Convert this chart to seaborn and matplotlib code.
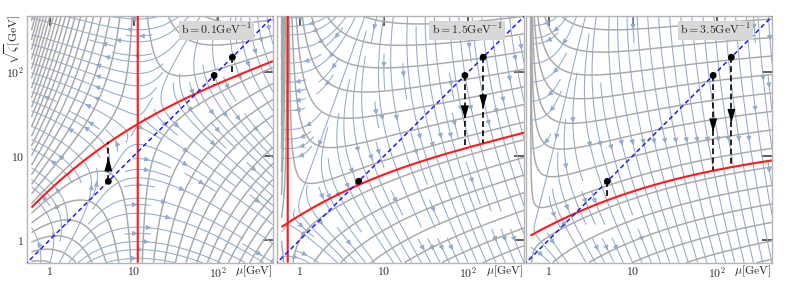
import numpy as np
import matplotlib
matplotlib.use('Agg')
import matplotlib.pyplot as plt
import seaborn as sns

# b values of the three panels (GeV^-1) and the scale mu where D(mu,b)=0
b_labels = ['0.1', '1.5', '3.5']
mu0 = [11.2, 0.72, 0.605]
mu_cut = 0.6                 # the field is not drawn below this scale
mu_pole = [0.1, 0.6, 0.6]    # where D(mu) runs away, per panel

# special null line: mu and sqrt(zeta) in GeV
red_mu = [
    [0.60, 4.9, 11.2, 35.5, 91, 148, 417],
    [0.59, 0.72, 4.9, 11.7, 91, 150, 407],
    [0.62, 2.1, 5.0, 12.0, 89, 145, 389],
]
red_sz = [
    [2.4, 14.5, 23.4, 44.7, 69, 87, 129],
    [1.35, 1.66, 4.57, 6.2, 12.3, 14.4, 18.2],
    [1.12, 2.19, 3.0, 3.76, 6.8, 7.46, 8.5],
]

# points on zeta = mu^2 and where their dashed arrows stop
point_mu = [5, 91, 150]
arrow_end = [
    [14.8, 70, 93],
    [4.6, 12.3, 14.4],
    [3.05, 6.8, 7.5],
]
diag_mu = [0.5, 500]

# spacing of the equipotential lines at the right edge (decades of sqrt(zeta))
contour_ds = [0.19, 0.21, 0.22]
contour_offset = [0.4, 0.4, 0.35]

xlim = (-0.27, 2.66)
ylim = (-0.27, 2.67)

sns.set_style('white')
plt.rcParams['font.family'] = ['DejaVu Serif']
plt.rcParams['mathtext.fontset'] = 'cm'

fig = plt.figure(figsize=(7.89, 2.90), dpi=100)
rects = [
    [27 / 789, 1 - 262.7 / 290, 246 / 789, 247 / 290],
    [277 / 789, 1 - 262.7 / 290, 247 / 789, 247 / 290],
    [526 / 789, 1 - 262.7 / 290, 246 / 789, 247 / 290],
]

t = np.linspace(np.log10(mu_cut) + 0.005, xlim[1], 320)
s = np.linspace(ylim[0], ylim[1], 320)
T, S = np.meshgrid(t, s)

for i in range(3):
    ax = fig.add_axes(rects[i])

    # evolution potential U = D(mu,b) * (ln zeta_null(mu) - ln zeta)
    t0 = np.log10(mu0[i])
    tp = np.log10(mu_pole[i])
    D = np.log((T - tp) / (t0 - tp))
    coef = np.polyfit(np.log10(red_mu[i]), np.log10(red_sz[i]), 3)
    s_red = np.polyval(coef, T)
    U = D * (s_red - S)
    dUds, dUdt = np.gradient(U, s, t)

    try:
        ax.streamplot(t, s, dUdt, dUds, density=0.9, color='#93abcd',
                      linewidth=0.75, arrowsize=0.7, num_arrows=5, zorder=1)
    except TypeError:
        ax.streamplot(t, s, dUdt, dUds, density=0.9, color='#93abcd',
                      linewidth=0.75, arrowsize=0.7, zorder=1)

    step = np.log((xlim[1] - tp) / (t0 - tp)) * contour_ds[i]
    k = np.arange(np.floor(np.nanmin(U) / step) - 1, np.ceil(np.nanmax(U) / step) + 1)
    levels = (k + contour_offset[i]) * step
    ax.contour(t, s, U, levels=levels, colors='#a8a8a8', linewidths=1.05,
               linestyles='solid', zorder=2)
    ax.contour(t, s, U, levels=[0], colors='#ff1a1a', linewidths=1.5,
               linestyles='solid', zorder=3)

    sns.lineplot(x=np.log10(diag_mu), y=np.log10(diag_mu), ax=ax, color='#1a1aff',
                 linestyle=(0, (3, 2)), linewidth=1.1, zorder=4)

    for mu, end in zip(point_mu, arrow_end[i]):
        y0, y1 = np.log10(mu), np.log10(end)
        x0 = np.log10(mu)
        ax.plot([x0, x0], [y0, y1], color='black', linestyle=(0, (3.5, 2)),
                linewidth=1.2, zorder=5)
        if abs(y1 - y0) > 0.3:
            tip = y0 + 0.6 * (y1 - y0)
            d = np.sign(y1 - y0)
            ax.annotate('', xy=(x0, tip), xytext=(x0, tip - d * 0.05),
                        arrowprops=dict(arrowstyle='-|>,head_length=1.1,head_width=0.32',
                                        color='black', lw=1, mutation_scale=7,
                                        shrinkA=0, shrinkB=0), zorder=6)
    sns.scatterplot(x=np.log10(point_mu), y=np.log10(point_mu), ax=ax, color='black',
                    s=24, edgecolor='none', zorder=7)

    ax.text(0.77, 0.94, r'$\mathrm{b{=}' + b_labels[i] + r'GeV^{-1}}$', transform=ax.transAxes,
            ha='center', va='center', fontsize=8.5, zorder=8,
            bbox=dict(boxstyle='square,pad=0.2', facecolor='#d8d8d8', edgecolor='none'))
    ax.text(1.0, -0.035, r'$\mu[\mathrm{GeV}]$', transform=ax.transAxes,
            ha='right', va='center', fontsize=8.5)

    ax.set_xlim(xlim)
    ax.set_ylim(ylim)
    ax.set_xticks([0, 1, 2], [r'$1$', r'$10$', r'$10^2$'])
    ax.set_yticks([0, 1, 2])
    if i == 0:
        ax.set_yticklabels([r'$1$', r'$10$', r'$10^2$'])
    else:
        ax.set_yticklabels([])
    ax.tick_params(direction='in', length=7, width=1.1, color='#333333', labelsize=8.5,
                   top=True, right=True, pad=2)
    ax.set_xlabel('')
    ax.set_ylabel('')
    for sp in ax.spines.values():
        sp.set_color('#b5b5b5')
        sp.set_linewidth(1.0)

fig.text(0.017, 0.948, r'$\sqrt{\zeta}[\mathrm{GeV}]$', rotation=90, ha='center', va='top',
         fontsize=8.5)

fig.savefig('out.png', dpi=100)
